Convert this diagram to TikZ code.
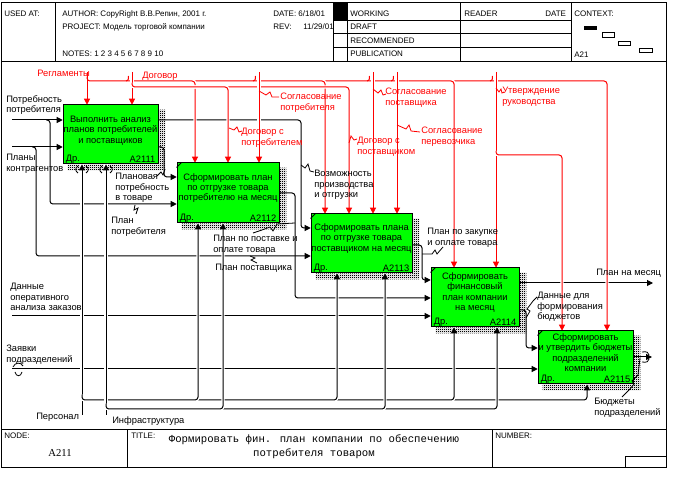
\documentclass[tikz,border=0pt]{standalone}
\usepackage{fontspec}
\setmainfont{Liberation Sans}
\newfontfamily\ttlfont{Liberation Mono}
\newfontfamily\nodeidfont{Liberation Serif}
\usetikzlibrary{arrows.meta,patterns.meta,calc,fit}
\definecolor{actgreen}{RGB}{0,255,0}
\definecolor{ctlred}{RGB}{255,0,0}
\pgfdeclarepattern{
  name=checker,
  type=uncolored,
  bottom left={\pgfpointorigin},
  top right={\pgfpoint{1.5pt}{1.5pt}},
  tile size={\pgfpoint{1.5pt}{1.5pt}},
  code={
    \pgfpathrectangle{\pgfpointorigin}{\pgfpoint{0.95pt}{0.95pt}}
    \pgfpathrectangle{\pgfpoint{0.75pt}{0.75pt}}{\pgfpoint{0.75pt}{0.75pt}}
    \pgfusepath{fill}
  }
}
\tikzset{
  frame/.style={line width=0.75pt},
  ln/.style={line width=0.75pt, rounded corners=2.2pt},
  arr/.style={ln, -{Triangle[length=4.5pt,width=4.5pt]}},
  ctl/.style={arr, draw=ctlred},
  gapw/.style={preaction={draw=white, line width=2.6pt, -}},
  leader/.style={line width=0.6pt},
  rleader/.style={leader, draw=ctlred},
  hook/.style={line width=0.75pt, draw=ctlred},
  lbl/.style={font=\fontsize{7}{7.8}\selectfont, inner sep=0pt, align=left, anchor=north west},
  rlbl/.style={lbl, text=ctlred},
  hdr/.style={font=\fontsize{6}{7}\selectfont, inner sep=0pt, anchor=west},
  act/.style={draw, line width=0.75pt, fill=actgreen, inner sep=0pt},
  acttxt/.style={font=\fontsize{7}{7.8}\selectfont, inner sep=0pt, align=center},
  shad/.style={pattern=checker, pattern color=black},
  tun/.style={line width=0.6pt},
}
\begin{document}
\begin{tikzpicture}[x=0.75pt,y=-0.75pt]
\useasboundingbox (0,0) rectangle (692,498);

% ---------------- frame, header, footer
\draw[frame] (1,3) rectangle (666,467);
\draw[frame] (1,62) -- (666,62);
\draw[frame] (1,430) -- (666,430);
\draw[frame] (55,3) -- (55,62);
\draw[frame] (333,3) -- (333,62);
\draw[frame] (347,3) -- (347,62);
\draw[frame] (460,3) -- (460,62);
\draw[frame] (571,3) -- (571,62);
\draw[frame] (333,21) -- (571,21);
\draw[frame] (333,34) -- (571,34);
\draw[frame] (333,48) -- (571,48);
\fill (333,3) rectangle (347,21);
\draw[frame] (127,430) -- (127,467);
\draw[frame] (492,430) -- (492,467);
\draw[frame] (625,467) |- (666,456);

\node[hdr] (h1) at (4,14) {USED AT:};
\node[hdr] (h2) at (62,14) {AUTHOR: CopyRight В.В.Репин, 2001 г.};
\node[hdr] (h3) at (62,27) {PROJECT: Модель торговой компании};
\node[hdr] (h4) at (62,54) {NOTES: 1 2 3 4 5 6 7 8 9 10};
\node[hdr] (h5) at (273,14) {DATE: 6/18/01};
\node[hdr] (h6) at (273,27) {REV:};
\node[hdr] (h7) at (303,27) {11/29/01};
\node[hdr] (h8) at (350,14) {WORKING};
\node[hdr] (h9) at (350,27) {DRAFT};
\node[hdr] (h10) at (350,41) {RECOMMENDED};
\node[hdr] (h11) at (350,54) {PUBLICATION};
\node[hdr] (h12) at (464,14) {READER};
\node[hdr] (h13) at (545,14) {DATE};
\node[hdr] (h14) at (574,14) {CONTEXT:};
\node[hdr] (h15) at (574,55) {A21};
\fill (584,26) rectangle (597,30);
\draw[line width=0.6pt] (602,32) rectangle (614,37);
\draw[line width=0.6pt] (618,41) rectangle (630,45);
\draw[line width=0.6pt] (639,48) rectangle (652,52);

\node[hdr] (f1) at (4,436) {NODE:};
\node[hdr] (f2) at (131,436) {TITLE:};
\node[hdr] (f3) at (495,436) {NUMBER:};
\node[font=\nodeidfont\fontsize{8}{9}\selectfont, inner sep=0pt] (f4) at (60,453) {A211};
\node[font=\ttlfont\fontsize{8}{10.5}\selectfont, inner sep=0pt, align=center] (f5) at (314,447) {Формировать фин. план компании по обеспечению\\потребителя товаром};

% ---------------- free ends
\coordinate (i1) at (12,120);
\coordinate (i2) at (12,147);
\coordinate (i3) at (12,316);
\coordinate (i4) at (12,369);
\coordinate (o1) at (653,283);
\coordinate (o2) at (652,357);
\coordinate (m1) at (82,415);
\coordinate (m2) at (106,415);
\coordinate (c1) at (87,72);
\coordinate (c2) at (132,72);
\coordinate (c3) at (259,72);
\coordinate (c4) at (373,72);
\coordinate (c5) at (397,72);
\coordinate (c6) at (496,72);

% ---------------- activity boxes (invisible first, for anchors)
\path (63,105) coordinate (b1a) (158,164) coordinate (b1b)
      (177,163) coordinate (b2a) (279,223) coordinate (b2b)
      (311,214) coordinate (b3a) (412,273) coordinate (b3b)
      (431,268) coordinate (b4a) (519,327) coordinate (b4b)
      (538,331) coordinate (b5a) (633,384) coordinate (b5b);
\node[inner sep=0pt, fit=(b1a)(b1b)] (b1) {};
\node[inner sep=0pt, fit=(b2a)(b2b)] (b2) {};
\node[inner sep=0pt, fit=(b3a)(b3b)] (b3) {};
\node[inner sep=0pt, fit=(b4a)(b4b)] (b4) {};
\node[inner sep=0pt, fit=(b5a)(b5b)] (b5) {};

% shadows
\foreach \bx in {b1,b2,b3,b4,b5}
  \fill[shad] ($(\bx.north east)+(0,5)$) rectangle ($(\bx.south east)+(7,6)$)
              ($(\bx.south west)+(5,0)$) rectangle ($(\bx.south east)+(7,6)$);

% ---------------- inputs
\draw[arr] (i1) -- (i1 -| b1.west);
\draw[arr] (i2) -- (i2 -| b1.west);
\draw[arr] (46,120) -| (50,204) -- (b2.west |- 0,204);
\draw[arr] (32,147) -| (36,256) -- (b3.west |- 0,256);
\draw[arr] (i3) -- (i3 -| b4.west);
\draw[arr] (i4) -- (i4 -| b5.west);

% ---------------- outputs between boxes
\draw[arr] (b1.east |- 0,120) -| (301,228) -- (b3.west |- 0,228);
\draw[arr] (b1.east |- 0,147) -| (164,177) -- (b2.west |- 0,177);
\draw[arr] (b2.east |- 0,193) -| (295,298) -- (b4.west |- 0,298);
\draw[arr] (b3.east |- 0,245) -| (422,280) -- (b4.west |- 0,280);
\draw[arr] (b4.east |- 0,283) -- (o1);
\draw[arr] (b4.east |- 0,310) -| (526,348) -- (b5.west |- 0,348);
\draw[arr] (b5.east |- 0,357) -- (o2);

% ---------------- mechanisms
\draw[arr,gapw] (m1) -- (m1 |- b1.south);
\draw[arr,gapw] (82,395) |- (587,400) -- (587,0 |- b5.south);
\draw[arr,gapw] (82,395) |- (454,400) -- (454,0 |- b4.south);
\draw[arr,gapw] (82,395) |- (337,400) -- (337,0 |- b3.south);
\draw[arr,gapw] (82,395) |- (198,400) -- (198,0 |- b2.south);
\draw[arr,gapw] (m2) -- (m2 |- b1.south);
\draw[arr,gapw] (106,404) |- (497,409) -- (497,0 |- b4.south);
\draw[arr,gapw] (106,404) |- (385,409) -- (385,0 |- b3.south);
\draw[arr,gapw] (106,404) |- (223,409) -- (223,0 |- b2.south);

% ---------------- controls
\draw[ctl,gapw] (87,77) |- (607,81) -- (607,0 |- b5.north);
\draw[ctl,gapw] (87,77) |- (454,81) -- (454,0 |- b4.north);
\draw[ctl,gapw] (87,77) |- (325,81) -- (325,0 |- b3.north);
\draw[ctl,gapw] (87,77) |- (195,81) -- (195,0 |- b2.north);
\draw[ctl] (c1) -- (c1 |- b1.north);
\draw[ctl,gapw] (c2) -- (c2 |- b1.north);
\draw[ctl,gapw] (132,83) |- (349,87) -- (349,0 |- b3.north);
\draw[ctl,gapw] (132,83) |- (228,87) -- (228,0 |- b2.north);
\draw[ctl,gapw] (c3) -- (c3 |- b2.north);
\draw[ctl,gapw] (c4) -- (c4 |- b3.north);
\draw[ctl,gapw] (c5) -- (c5 |- b3.north);
\draw[ctl,gapw] (c6) -- (c6 |- b4.north);
\draw[ctl,gapw] (496,151) |- (562,155) -- (562,0 |- b5.north);
% bridge hooks on the upper control line
\foreach \hx in {132,259,373,397,496}
  \draw[hook] (\hx-6,81) .. controls (\hx-4,81) and (\hx-3.5,80) .. (\hx-3.5,76);

% ---------------- boxes on top
\node[act, fit=(b1a)(b1b)] (B1) {};
\node[act, fit=(b2a)(b2b)] (B2) {};
\node[act, fit=(b3a)(b3b)] (B3) {};
\node[act, fit=(b4a)(b4b)] (B4) {};
\node[act, fit=(b5a)(b5b)] (B5) {};
\foreach \bx in {B2,B3,B4,B5}
  \draw[line width=0.6pt] ($(\bx.north west)+(0,5)$) -- ($(\bx.north west)+(5,0)$);

\node[acttxt] (t1) at ($(B1.center)+(0,-4)$) {Выполнить анализ\\планов потребителей\\и поставщиков};
\node[acttxt] (t2) at ($(B2.center)+(0,-5)$) {Сформировать план\\по отгрузке товара\\потребителю на месяц};
\node[acttxt] (t3) at ($(B3.center)+(0,-5)$) {Сформировать плана\\по отгрузке товара\\поставщиком на месяц};
\node[acttxt] (t4) at ($(B4.center)+(0,-5)$) {Сформировать\\финансовый\\план компании\\на месяц};
\node[acttxt] (t5) at ($(B5.center)+(0,-5)$) {Сформировать\\и утвердить бюджеты\\подразделений\\компании};
\foreach \bx/\num in {B1/A2111,B2/A2112,B3/A2113,B4/A2114,B5/A2115}{
  \node[lbl, anchor=south west] (\bx d) at ($(\bx.south west)+(3,-1)$) {Др.};
  \node[lbl, anchor=south east] (\bx n) at ($(\bx.south east)+(-3,-2)$) {\num};
}

% tunnel marks
\draw[tun] (78,166) .. controls (75,168) and (75,171) .. (78,173);
\draw[tun] (86,166) .. controls (89,168) and (89,171) .. (86,173);
\draw[tun] (102,166) .. controls (99,168) and (99,171) .. (102,173);
\draw[tun] (110,166) .. controls (113,168) and (113,171) .. (110,173);
\draw[tun] (13,367) .. controls (15,362) and (21,362) .. (23,366);
\draw[tun] (15,372) .. controls (16,377) and (21,377) .. (22,372);
\draw[tun] (642,352) .. controls (647,351) and (649,353) .. (649,355);
\draw[tun] (642,362) .. controls (647,363) and (649,361) .. (649,359);

% ---------------- labels (black)
\node[lbl] (l1) at (6,95) {Потребность\\потребителя};
\node[lbl] (l2) at (6,154) {Планы\\контрагентов};
\node[lbl] (l3) at (115,173) {Плановая\\потребность\\в товаре};
\node[lbl] (l4) at (111,217) {План\\потребителя};
\node[lbl] (l5) at (314,170) {Возможность\\производства\\и отгрузки};
\node[lbl] (l6) at (213,235) {План по поставке и\\оплате товара};
\node[lbl] (l7) at (215,264) {План поставщика};
\node[lbl] (l8) at (427,228) {План по закупке\\и оплате товара};
\node[lbl] (l9) at (596,269) {План на месяц};
\node[lbl] (l10) at (537,292) {Данные для\\формирования\\бюджетов};
\node[lbl] (l11) at (10,283) {Данные\\оперативного\\анализа заказов};
\node[lbl] (l12) at (6,345) {Заявки\\подразделений};
\node[lbl] (l13) at (594,398) {Бюджеты\\подразделений};
\node[lbl] (l14) at (36,413) {Персонал};
\node[lbl] (l15) at (112,416) {Инфраструктура};
% labels (red)
\node[rlbl] (r1) at (37,70) {Регламенты};
\node[rlbl] (r2) at (142,72) {Договор};
\node[rlbl] (r3) at (280,93) {Согласование\\потребителя};
\node[rlbl] (r4) at (241,128) {Договор с\\потребителем};
\node[rlbl] (r5) at (385,88) {Согласование\\поставщика};
\node[rlbl] (r6) at (357,137) {Договор с\\поставщиком};
\node[rlbl] (r7) at (421,127) {Согласование\\перевозчика};
\node[rlbl] (r8) at (502,87) {Утверждение\\руководства};

% ---------------- leaders (squiggles)
\draw[rleader] (229,128) -- (234,130) -- (237,127) -- (239,132) -- (242,131);
\draw[rleader] (259,91) -- (266,95) -- (270,92) -- (272,97) -- (279,97);
\draw[rleader] (373,89) -- (378,93) -- (381,90) -- (383,95) -- (386,94);
\draw[rleader] (349,143) -- (351,136) -- (354,140) -- (357,139);
\draw[rleader] (397,125) -- (406,129) -- (409,125) -- (411,131) -- (420,132);
\draw[rleader] (496,88) -- (499,92) -- (501,89) -- (502,93) -- (504,92);
\draw[leader] (301,165) -- (305,168) -- (308,164) -- (310,171) -- (314,172);
\draw[leader] (157,176) -- (161,172) -- (163,175) -- (165,169);
\draw[leader] (135,205) -- (134,210) -- (138,208) -- (136,214);
\draw[leader] (295,223) -- (277,224) -- (273,231) -- (270,227) -- (262,230) -- (253,233);
\draw[leader] (250,256) -- (255,258) -- (251,260) -- (257,263);
\draw[leader] (422,254) -- (432,254) -- (435,250) -- (437,254) -- (443,247);
\draw[leader] (526,318) -- (530,311) -- (527,309) -- (533,301) -- (537,297);
\draw[leader] (622,397) -- (630,389) -- (634,384) -- (632,381) -- (638,375) -- (640,358);
\end{tikzpicture}
\end{document}
